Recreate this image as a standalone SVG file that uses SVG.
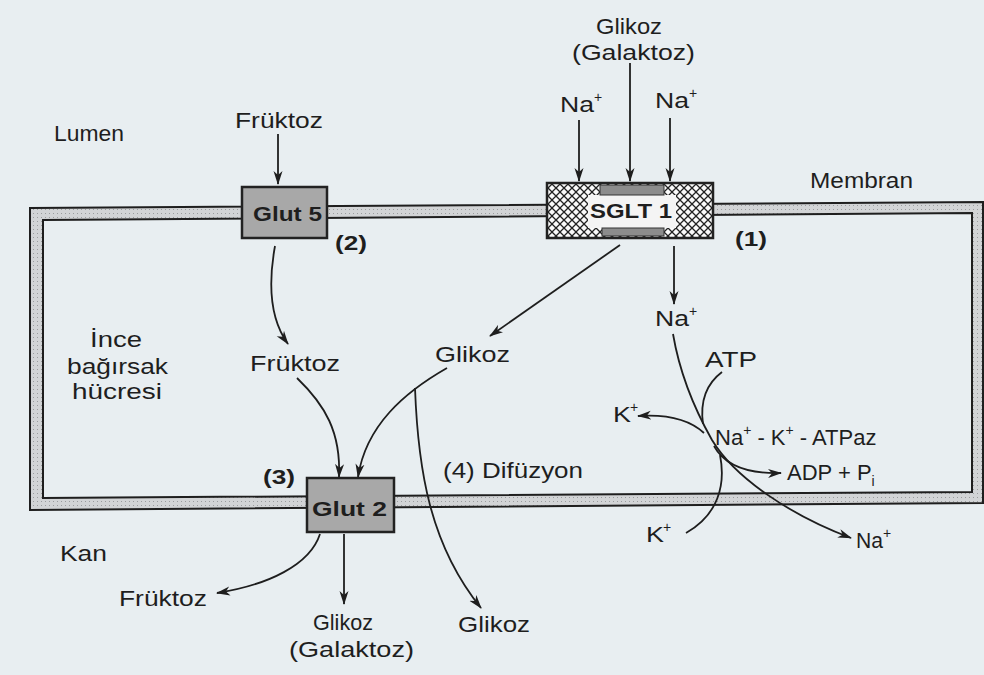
<svg xmlns="http://www.w3.org/2000/svg" width="984" height="675" viewBox="0 0 984 675">
<style>
.t{font-family:"Liberation Sans",Arial,sans-serif;font-size:22px;fill:#1e1e1e}
.b{font-family:"Liberation Sans",Arial,sans-serif;font-size:20px;font-weight:bold;fill:#1e1e1e}
.s{font-family:"Liberation Sans",Arial,sans-serif;font-size:14px;fill:#1e1e1e}
.c{fill:none;stroke:#1e1e1e;stroke-width:1.8}
.a{marker-end:url(#ah)}
.mem{stroke:#1e1e1e;stroke-width:2;fill:none}
.box{fill:#a8a8a8;stroke:#222;stroke-width:2.5}
</style>
<defs>
<marker id="ah" viewBox="0 0 14 10" markerWidth="14" markerHeight="10" refX="13" refY="5" orient="auto" markerUnits="userSpaceOnUse">
<path d="M0,0.5 L14,5 L0,9.5 L4,5 z" fill="#1e1e1e"/>
</marker>
<pattern id="hatch" width="8" height="8" patternUnits="userSpaceOnUse">
<rect width="8" height="8" fill="#fafafa"/>
<path d="M0,0 L8,8 M8,0 L0,8" stroke="#222" stroke-width="1.3"/>
</pattern>
<pattern id="dots" width="4" height="4" patternUnits="userSpaceOnUse">
<rect width="4" height="4" fill="#d2d4d6"/>
<rect x="1" y="1" width="1" height="1" fill="#9a9c9e"/>
</pattern>
</defs>
<rect width="984" height="675" fill="#e8eef1"/>

<g id="membrane">
<path d="M30,208 L983,202 L983,503 L30,510 Z M43,220 L43,498 L972,492 L972,213 Z" fill="url(#dots)" fill-rule="evenodd"/>
<path class="mem" d="M30,208 L983,202 L983,503 L30,510 Z"/>
<path class="mem" d="M43,220 L972,213 L972,492 L43,498 Z" stroke-width="2.5"/>
</g>

<g id="connectors">
<path class="c a" d="M579,120 L579,181"/>
<path class="c a" d="M630,63 L630,181"/>
<path class="c a" d="M670,118 L670,181"/>
<path class="c a" d="M278,134 L278,184"/>
<path class="c a" d="M275,246 C267,290 272,322 288,344"/>
<path class="c a" d="M620,245 L490,336"/>
<path class="c a" d="M674,246 L674,304"/>
<path class="c a" d="M297,378 C325,405 341,432 339,477"/>
<path class="c a" d="M447,368 C405,392 366,425 358,477"/>
<path class="c a" d="M415,388 C418,470 430,545 481,608"/>
<path class="c a" d="M320,534 C310,565 268,585 217,593"/>
<path class="c a" d="M344,534 L344,604"/>
<path class="c a" d="M673,334 C680,375 695,410 712,440 C735,478 790,515 851,538"/>
<path class="c" d="M722,372 C706,384 700,402 703,424"/>
<path class="c a" d="M704,433 C690,420 668,414 638,416"/>
<path class="c a" d="M714,446 C725,466 748,474 781,473"/>
<path class="c" d="M720,455 C726,485 718,515 686,533"/>
</g>

<g id="glut5">
<rect class="box" x="242" y="187" width="85" height="51"/>
<text class="b" x="253" y="221" textLength="69" lengthAdjust="spacingAndGlyphs">Glut 5</text>
</g>

<g id="sglt1">
<rect x="547" y="183" width="166" height="55" fill="url(#hatch)" stroke="#222" stroke-width="2.5"/>
<rect x="588" y="195" width="88" height="33" fill="#f4f4f4"/>
<rect x="600" y="185" width="64" height="10" fill="#8c8c8c" stroke="#333" stroke-width="1"/>
<rect x="602" y="228" width="62" height="8" fill="#8c8c8c" stroke="#333" stroke-width="1"/>
<text class="b" x="590" y="218" textLength="82" lengthAdjust="spacingAndGlyphs">SGLT 1</text>
</g>

<g id="glut2">
<rect class="box" x="307" y="478" width="87" height="54"/>
<text class="b" x="312" y="516" textLength="75" lengthAdjust="spacingAndGlyphs">Glut 2</text>
</g>

<g id="labels">
<text class="t" x="596" y="34" textLength="66" lengthAdjust="spacingAndGlyphs">Glikoz</text>
<text class="t" x="572" y="60" textLength="123" lengthAdjust="spacingAndGlyphs">(Galaktoz)</text>
<text class="t" x="560" y="112" textLength="34" lengthAdjust="spacingAndGlyphs">Na</text>
<text class="s" x="594" y="102">+</text>
<text class="t" x="655" y="108" textLength="34" lengthAdjust="spacingAndGlyphs">Na</text>
<text class="s" x="689" y="98">+</text>
<text class="t" x="54" y="141" textLength="70" lengthAdjust="spacingAndGlyphs">Lumen</text>
<text class="t" x="235" y="128" textLength="88" lengthAdjust="spacingAndGlyphs">Früktoz</text>
<text class="t" x="810" y="188" textLength="103" lengthAdjust="spacingAndGlyphs">Membran</text>
<text class="b" x="335" y="250" textLength="32" lengthAdjust="spacingAndGlyphs">(2)</text>
<text class="b" x="735" y="246" textLength="32" lengthAdjust="spacingAndGlyphs">(1)</text>
<text class="t" x="655" y="326" textLength="34" lengthAdjust="spacingAndGlyphs">Na</text>
<text class="s" x="689" y="316">+</text>
<text class="t" x="250" y="371" textLength="90" lengthAdjust="spacingAndGlyphs">Früktoz</text>
<text class="t" x="435" y="362" textLength="75" lengthAdjust="spacingAndGlyphs">Glikoz</text>
<text class="t" x="90" y="347" textLength="52" lengthAdjust="spacingAndGlyphs">İnce</text>
<text class="t" x="67" y="374" textLength="101" lengthAdjust="spacingAndGlyphs">bağırsak</text>
<text class="t" x="72" y="399" textLength="90" lengthAdjust="spacingAndGlyphs">hücresi</text>
<text class="t" x="705" y="367" textLength="52" lengthAdjust="spacingAndGlyphs">ATP</text>
<text class="t" x="613" y="422" textLength="18" lengthAdjust="spacingAndGlyphs">K</text>
<text class="s" x="630" y="412">+</text>
<text class="t" x="715" y="445">Na<tspan class="s" dy="-10">+</tspan><tspan dy="10"> - K</tspan><tspan class="s" dy="-10">+</tspan><tspan dy="10"> - ATPaz</tspan></text>
<text class="t" x="787" y="480">ADP + P<tspan class="s" dy="6">i</tspan></text>
<text class="b" x="263" y="484" textLength="32" lengthAdjust="spacingAndGlyphs">(3)</text>
<text class="t" x="443" y="478" textLength="140" lengthAdjust="spacingAndGlyphs">(4) Difüzyon</text>
<text class="t" x="646" y="542" textLength="18" lengthAdjust="spacingAndGlyphs">K</text>
<text class="s" x="663" y="532">+</text>
<text class="t" x="856" y="548" textLength="27" lengthAdjust="spacingAndGlyphs">Na</text>
<text class="s" x="883" y="538">+</text>
<text class="t" x="60" y="561" textLength="47" lengthAdjust="spacingAndGlyphs">Kan</text>
<text class="t" x="119" y="606" textLength="88" lengthAdjust="spacingAndGlyphs">Früktoz</text>
<text class="t" x="313" y="630" textLength="60" lengthAdjust="spacingAndGlyphs">Glikoz</text>
<text class="t" x="289" y="657" textLength="125" lengthAdjust="spacingAndGlyphs">(Galaktoz)</text>
<text class="t" x="458" y="632" textLength="72" lengthAdjust="spacingAndGlyphs">Glikoz</text>
</g>
</svg>
